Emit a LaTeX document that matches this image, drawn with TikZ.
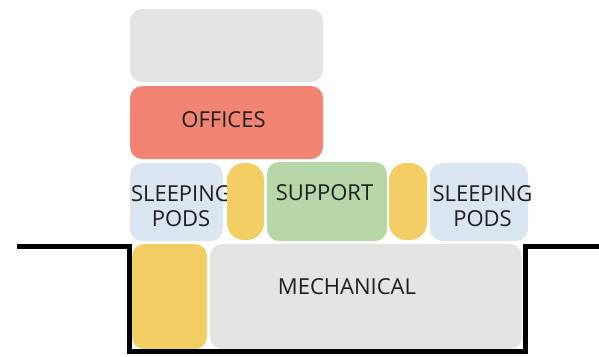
\documentclass[tikz,border=0pt]{standalone}
\usepackage{fontspec}
\setmainfont{Open Sans}
\definecolor{cgray}{HTML}{E4E4E4}
\definecolor{csalmon}{HTML}{F28473}
\definecolor{cblue}{HTML}{DAE6F1}
\definecolor{cyellow}{HTML}{F2CE64}
\definecolor{cgreen}{HTML}{B8D7A8}
\definecolor{ctext}{HTML}{1E1E1E}
\begin{document}
\begin{tikzpicture}[x=1pt,y=-1pt,
  box/.style={rectangle, rounded corners=12pt, inner sep=0pt, text=ctext,
    font=\fontsize{22}{25}\selectfont, align=center},
  ground/.style={line width=5pt, black}]
\useasboundingbox (0,0) rectangle (599,356);
% top row
\node[box, fill=cgray, minimum width=193pt, minimum height=73pt] (top) at (226.5,45.5) {};
\node[box, fill=csalmon, minimum width=193pt, minimum height=73pt] (offices) at (226.5,122.5) {};
\node[box] (officesT) at (223.5,120) {OFFICES};
% middle row
\node[box, fill=cblue, minimum width=93pt, minimum height=78pt] (podsL) at (176.5,202) {};
\node[box] (podsLT) at (181,206) {SLEEPING\\PODS};
\node[box, fill=cyellow, rounded corners=17pt, minimum width=37pt, minimum height=77pt] (yelA) at (245.5,201.5) {};
\node[box, fill=cgreen, minimum width=120pt, minimum height=79pt] (support) at (327,201.5) {};
\node[box] (supportT) at (324.5,193) {SUPPORT};
\node[box, fill=cyellow, rounded corners=17pt, minimum width=38pt, minimum height=77pt] (yelB) at (408,201.5) {};
\node[box, fill=cblue, minimum width=98pt, minimum height=78pt] (podsR) at (479,202) {};
\node[box] (podsRT) at (482.5,206) {SLEEPING\\PODS};
% bottom row
\node[box, fill=cyellow, minimum width=75pt, minimum height=105pt] (yelC) at (169.5,296.5) {};
\node[box, fill=cgray, minimum width=312pt, minimum height=105pt] (mech) at (366,296.5) {};
\node[box] (mechT) at (347,287) {MECHANICAL};
% ground line
\draw[ground] (17,246.7) -- (129.5,246.7) -- (129.5,351.5) -- (525.5,351.5) -- (525.5,246.7) -- (599,246.7);
\end{tikzpicture}
\end{document}
